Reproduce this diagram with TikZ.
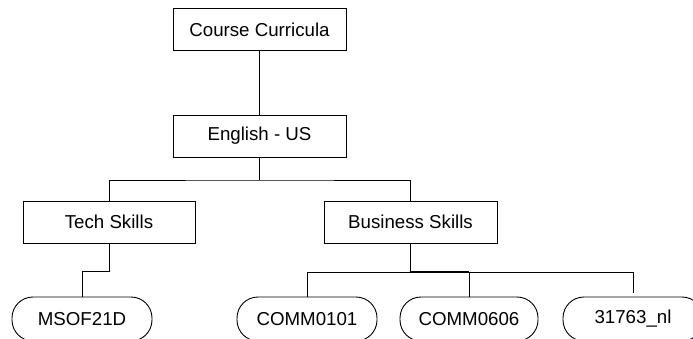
\documentclass[tikz,border=0pt]{standalone}
\usepackage{fontspec}
\setmainfont{Liberation Sans}
\usetikzlibrary{positioning}

\begin{document}
\begin{tikzpicture}[x=1pt,y=-1pt,line width=0.9pt,
  box/.style={draw,rectangle,minimum width=173pt,minimum height=42pt,inner sep=0pt,
    font=\fontsize{18.7}{22}\selectfont},
  pill/.style={draw,rectangle,rounded corners=21pt,minimum width=140pt,minimum height=44pt,inner sep=0pt,
    font=\fontsize{18.7}{22}\selectfont}]
  \useasboundingbox (0,0) rectangle (693,339);
  \clip (0,0) rectangle (693,339);

  % ===== Boxes =====
  \node[box] (curr) at (259.5,29.5) {Course Curricula};
  \node[box] (engl) at (259.5,136) {English - US};
  \node[box,minimum width=172pt] (tech) at (109,222) {Tech Skills};
  \node[box] (busi) at (410.5,222) {Business Skills};

  % ===== Courses =====
  \node[pill] (msof) at (82,319) {MSOF21D};
  \node[pill] (comma) at (307,319) {COMM0101};
  \node[pill,minimum width=138pt] (commb) at (469,319) {COMM0606};
  \node[pill] (nl) at (633,319) {31763\_nl};

  % --- Junctions ---
  \coordinate (jtop) at (259.5,180);
  \coordinate (jtech) at (109,271);
  \coordinate (jbusi) at (410.5,272);

  % --- Connectors ---
  \draw (curr) -- (engl);
  \draw (engl) -- (jtop);
  \draw (tech) |- (jtop) -| (busi);
  \draw (tech) -- (jtech) -| (msof);
  \draw (comma) |- (jbusi -| nl) -- ([yshift=4pt]nl.north);
  \draw (commb) -- (commb |- jbusi);
  \draw[line width=1.8pt] (busi) -- (jbusi) -- (jbusi -| commb);
\end{tikzpicture}
\end{document}
